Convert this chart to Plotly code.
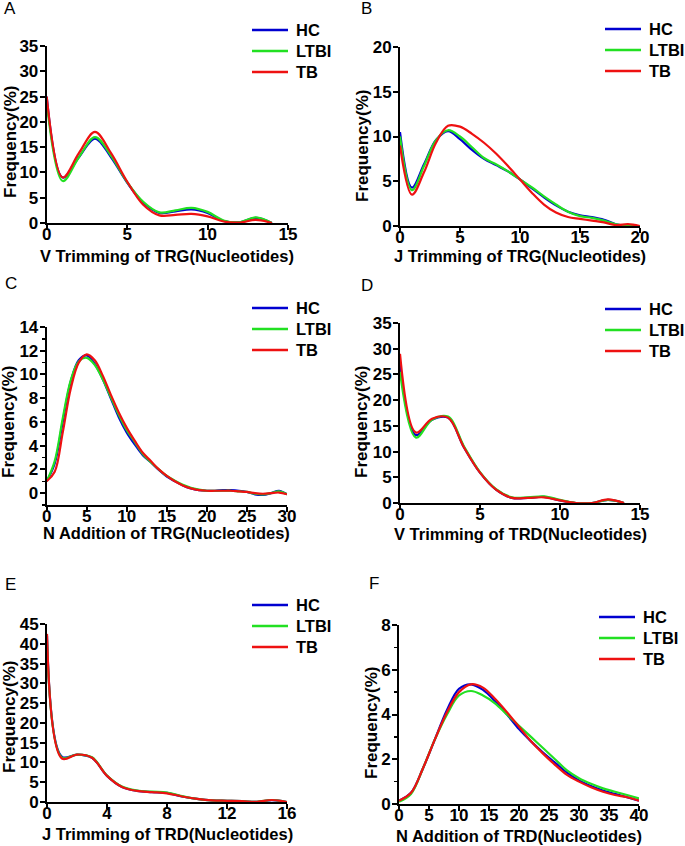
import plotly.graph_objects as go

# ---------------- data ----------------
groups = ["HC", "LTBI", "TB"]
colors = {"HC": "#0000D0", "LTBI": "#22E022", "TB": "#EE1111"}

# A: V trimming of TRG
A_x = list(range(0, 15))
A_HC = [25, 9.0, 13.0, 16.7, 13.0, 8.0, 4.0, 2.0, 2.3, 2.7, 2.0, 0.4, 0.15, 1.0, 0]
A_LTBI = [24, 8.3, 13.0, 17.0, 13.3, 8.1, 4.2, 2.1, 2.5, 3.0, 2.2, 0.5, 0.15, 1.1, 0]
A_TB = [25, 9.0, 13.8, 18.0, 13.8, 8.2, 3.6, 1.5, 1.6, 1.8, 1.3, 0.3, 0.1, 0.6, 0]

# B: J trimming of TRG
B_x = list(range(0, 21))
B_HC = [10.5, 4.3, 6.9, 9.6, 10.6, 9.7, 8.5, 7.5, 6.8, 6.1, 5.2, 4.2, 3.2, 2.3, 1.6, 1.2, 1.0, 0.7, 0.2, 0.0, 0.0]
B_LTBI = [10.0, 4.0, 6.7, 9.6, 10.7, 10.0, 8.8, 7.6, 6.9, 6.1, 5.2, 4.3, 3.3, 2.4, 1.6, 1.1, 0.9, 0.6, 0.2, 0.0, 0.0]
B_TB = [9.0, 3.5, 6.0, 9.3, 11.2, 11.1, 10.3, 9.3, 8.1, 6.7, 5.2, 3.7, 2.4, 1.5, 1.0, 0.8, 0.6, 0.4, 0.1, 0.2, 0.0]

# C: N addition of TRG
C_x = list(range(0, 31))
C_HC = [1.0, 2.5, 6.0, 9.4, 11.2, 11.6, 10.9, 9.6, 8.0, 6.4, 5.1, 4.1, 3.2, 2.6, 1.95, 1.4, 1.0, 0.65, 0.4, 0.25, 0.2,
        0.2, 0.25, 0.25, 0.2, 0.1, -0.1, -0.15, 0.0, 0.2, -0.1]
C_LTBI = [1.0, 2.7, 6.3, 9.5, 11.1, 11.4, 10.8, 9.6, 8.1, 6.6, 5.3, 4.3, 3.3, 2.6, 2.0, 1.45, 1.05, 0.7, 0.45, 0.3, 0.2,
          0.2, 0.2, 0.2, 0.15, 0.1, -0.05, -0.1, 0.0, 0.15, -0.1]
C_TB = [1.0, 1.8, 5.1, 8.8, 11.0, 11.7, 11.2, 9.9, 8.3, 6.8, 5.5, 4.4, 3.4, 2.7, 2.0, 1.45, 1.0, 0.65, 0.4, 0.25, 0.2,
        0.2, 0.2, 0.2, 0.15, 0.1, 0.0, -0.05, 0.0, 0.05, -0.1]

# D: V trimming of TRD
D_x = list(range(0, 15))
D_HC = [27, 13.2, 16.2, 16.6, 10.8, 5.9, 2.6, 1.0, 1.0, 1.2, 0.5, 0.0, 0.0, 0.6, 0]
D_LTBI = [25.5, 12.7, 16.2, 16.8, 11.0, 6.0, 2.7, 1.1, 1.1, 1.3, 0.6, 0.0, 0.0, 0.6, 0]
D_TB = [29, 13.7, 16.4, 16.6, 10.8, 5.9, 2.6, 1.0, 1.0, 1.1, 0.5, 0.0, 0.0, 0.7, 0]

# E: J trimming of TRD
E_x = list(range(0, 17))
E_HC = [42, 11.4, 12.0, 11.2, 6.6, 3.8, 2.8, 2.5, 2.3, 1.4, 0.8, 0.4, 0.3, 0.2, 0.05, 0.45, 0.0]
E_LTBI = [41, 11.2, 12.0, 11.3, 6.7, 3.9, 2.9, 2.6, 2.4, 1.5, 0.8, 0.4, 0.3, 0.2, 0.05, 0.5, 0.0]
E_TB = [42.5, 11.0, 12.0, 11.2, 6.6, 3.8, 2.8, 2.5, 2.2, 1.4, 0.8, 0.4, 0.3, 0.2, 0.05, 0.5, 0.0]

# F: N addition of TRD
F_x = list(range(0, 41, 2))
F_HC = [0.15, 0.5, 1.6, 2.9, 4.2, 5.15, 5.35, 5.1, 4.6, 4.0, 3.35, 2.8, 2.3, 1.85, 1.4, 1.05, 0.8, 0.6, 0.45, 0.3, 0.15]
F_LTBI = [0.1, 0.45, 1.6, 2.9, 4.0, 4.85, 5.05, 4.85, 4.5, 4.0, 3.5, 3.0, 2.5, 2.0, 1.5, 1.15, 0.9, 0.7, 0.55, 0.4, 0.25]
F_TB = [0.15, 0.5, 1.6, 2.9, 4.1, 5.0, 5.35, 5.2, 4.7, 4.1, 3.45, 2.8, 2.25, 1.75, 1.3, 1.0, 0.75, 0.55, 0.4, 0.3, 0.15]

# ---------------- layout (pixels in a 685 x 846 page) ----------------
W, H = 685, 846
panels = [
    dict(letter="A", x=A_x, series=[A_HC, A_LTBI, A_TB], title="V Trimming of TRG(Nucleotides)",
         xr=[0, 15], xd=5, yr=[0, 35], yd=5, yminor=False,
         px=(46.7, 288), py=(223, 46), ytc=(10, 142), xty=256, leg=(252, 30), lab=(2, 9)),
    dict(letter="B", x=B_x, series=[B_HC, B_LTBI, B_TB], title="J Trimming of TRG(Nucleotides)",
         xr=[0, 20], xd=5, yr=[0, 20], yd=5, yminor=False,
         px=(400, 640), py=(226, 47), ytc=(362, 146), xty=256, leg=(605, 29), lab=(359, 9)),
    dict(letter="C", x=C_x, series=[C_HC, C_LTBI, C_TB], title="N Addition of TRG(Nucleotides)",
         xr=[0, 30], xd=5, yr=[-1, 14], yd=2, yminor=True,
         px=(46.7, 287), py=(505, 327), ytc=(9, 422), xty=533, leg=(252, 308), lab=(3, 283)),
    dict(letter="D", x=D_x, series=[D_HC, D_LTBI, D_TB], title="V Trimming of TRD(Nucleotides)",
         xr=[0, 15], xd=5, yr=[0, 35], yd=5, yminor=False,
         px=(400, 640), py=(503, 323), ytc=(362, 422), xty=534, leg=(605, 309), lab=(359, 285)),
    dict(letter="E", x=E_x, series=[E_HC, E_LTBI, E_TB], title="J Trimming of TRD(Nucleotides)",
         xr=[0, 16], xd=4, yr=[0, 45], yd=5, yminor=False,
         px=(47, 287), py=(802, 624), ytc=(9, 717), xty=834, leg=(252, 605), lab=(3, 584)),
    dict(letter="F", x=F_x, series=[F_HC, F_LTBI, F_TB], title="N Addition of TRD(Nucleotides)",
         xr=[0, 40], xd=5, yr=[0, 8], yd=2, yminor=True,
         px=(399, 639), py=(804, 625), ytc=(371, 723), xty=836, leg=(599, 617), lab=(367, 583)),
]

FONT = "Liberation Sans, Arial, sans-serif"
BOLD = dict(family=FONT, color="black", weight="bold")


def fx(px):
    return px / W


def fy(py):
    return 1 - py / H


fig = go.Figure()
annotations, shapes = [], []
layout = dict(
    width=W, height=H, margin=dict(l=0, r=0, t=0, b=0, pad=0, autoexpand=False),
    paper_bgcolor="white", plot_bgcolor="white", showlegend=False,
    font=dict(family=FONT, color="black"),
)

for i, p in enumerate(panels):
    n = i + 1
    xa = "x" if n == 1 else f"x{n}"
    ya = "y" if n == 1 else f"y{n}"
    for g, vals in zip(groups, p["series"]):
        fig.add_trace(go.Scatter(
            x=p["x"], y=vals, mode="lines", name=g,
            line=dict(color=colors[g], width=2.2, shape="spline", smoothing=1.0),
            xaxis=xa, yaxis=ya, hoverinfo="skip",
        ))
    xkey = "xaxis" if n == 1 else f"xaxis{n}"
    ykey = "yaxis" if n == 1 else f"yaxis{n}"
    common = dict(
        showline=True, linecolor="black", linewidth=2, showgrid=False, zeroline=False,
        ticks="outside", ticklen=5, tickwidth=2, tickcolor="black", automargin=False,
        tickfont=dict(size=17, **BOLD), tick0=0,
    )
    layout[xkey] = dict(domain=[fx(p["px"][0]), fx(p["px"][1])], anchor=ya,
                        range=p["xr"], dtick=p["xd"], ticklabelstandoff=-10, **common)
    yd = dict(domain=[fy(p["py"][0]), fy(p["py"][1])], anchor=xa,
              range=p["yr"], dtick=p["yd"], ticklabelstandoff=-2, **common)
    if p["yminor"]:
        yd["minor"] = dict(dtick=1, tick0=0, ticks="outside", ticklen=3, tickwidth=1.5, tickcolor="black")
    layout[ykey] = yd

    # axis titles
    annotations.append(dict(text=p["title"], x=fx((p["px"][0] + p["px"][1]) / 2), y=fy(p["xty"]),
                            xref="paper", yref="paper", xanchor="center", yanchor="middle",
                            showarrow=False, font=dict(size=16.5, **BOLD)))
    annotations.append(dict(text="Frequency(%)", x=fx(p["ytc"][0]), y=fy(p["ytc"][1]),
                            xref="paper", yref="paper", xanchor="center", yanchor="middle",
                            textangle=-90, showarrow=False, font=dict(size=17, **BOLD)))
    # panel letter
    annotations.append(dict(text=p["letter"], x=fx(p["lab"][0]), y=fy(p["lab"][1]),
                            xref="paper", yref="paper", xanchor="left", yanchor="middle",
                            showarrow=False, font=dict(family=FONT, size=17, color="black")))
    # legend
    lx, ly = p["leg"]
    for k, g in enumerate(groups):
        yy = ly + k * 21
        shapes.append(dict(type="line", xref="paper", yref="paper",
                           x0=fx(lx), x1=fx(lx + 36), y0=fy(yy), y1=fy(yy),
                           line=dict(color=colors[g], width=2.4)))
        annotations.append(dict(text=g, x=fx(lx + 42), y=fy(yy), xref="paper", yref="paper",
                                xanchor="left", yanchor="middle", showarrow=False,
                                font=dict(size=16.5, **BOLD)))

layout["annotations"] = annotations
layout["shapes"] = shapes
fig.update_layout(**layout)
fig.write_html("out.html", config={"displayModeBar": False, "staticPlot": True},
               post_script="document.body.style.margin='0';document.body.style.padding='0';")
